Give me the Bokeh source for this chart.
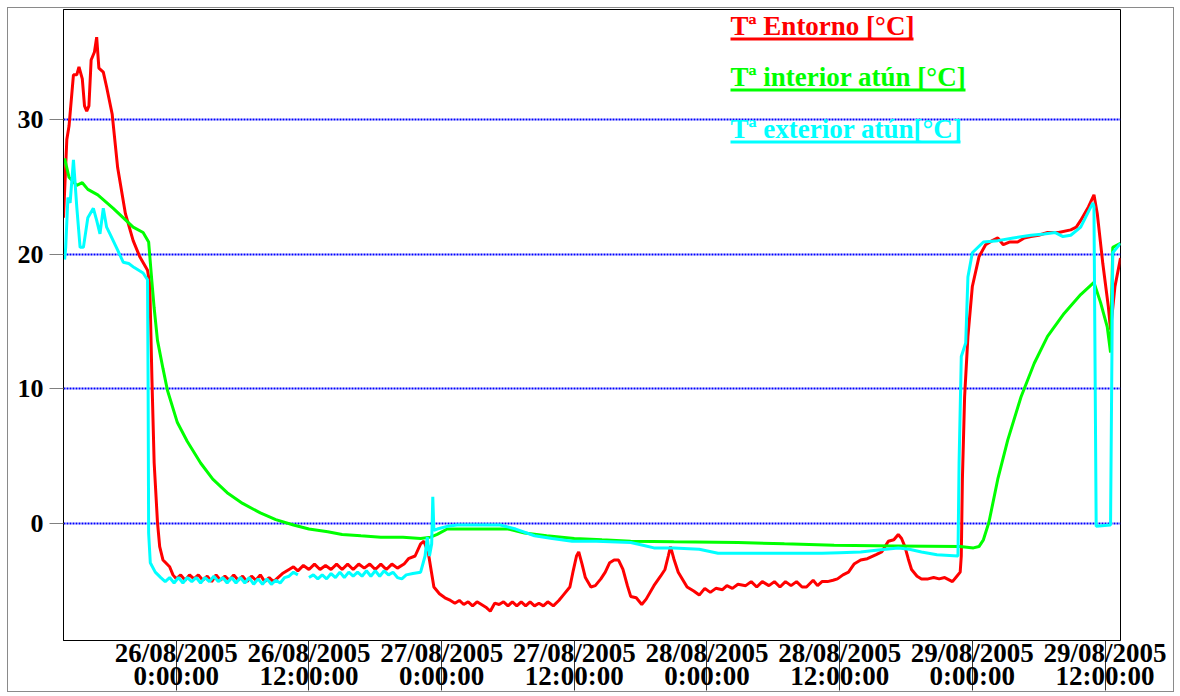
import numpy as np
from bokeh.plotting import figure
from bokeh.models import Range1d, FixedTicker, Label
from bokeh.embed import file_html
from bokeh.resources import INLINE

# ---- data: hours since 26/08/2005 0:00:00 and temperature [°C] ----
RED_H = [-10.2, -9.9, -9.7, -9.3, -9.0, -8.8, -8.5, -8.3, -8.1, -7.9, -7.7, -7.4, -7.2, -7.0, -6.6, -6.3,
         -5.8, -5.3, -4.6, -3.9, -3.3, -2.6, -2.4, -2.2, -2.0, -1.7, -1.5, -1.2, -0.6, -0.3,
         0.0, 0.4, 0.8, 1.2, 1.6, 2.0, 2.4, 2.8, 3.2, 3.6, 4.0, 4.4, 4.8, 5.2, 5.6, 6.0, 6.4, 6.8,
         7.2, 7.6, 8.0, 8.4, 8.8, 9.2, 9.6, 10.2, 10.6, 11.0, 11.5, 12.0, 12.5, 13.0, 13.5, 14.0,
         14.5, 15.0, 15.5, 16.0, 16.5, 17.0, 17.5, 18.0, 18.5, 19.0, 19.5, 20.0, 20.6, 21.0, 21.6,
         22.1, 22.4, 22.8, 23.3, 23.8, 24.3, 24.8, 25.2, 25.6, 26.0, 26.4, 26.8, 27.2, 27.6, 28.0,
         28.4, 28.8, 29.2, 29.6, 30.0, 30.4, 30.8, 31.2, 31.6, 32.0, 32.4, 32.8, 33.2, 33.6, 34.1,
         34.6, 35.0, 35.6, 35.9, 36.2, 36.4, 36.7, 37.0, 37.5, 37.9, 38.4, 38.8, 39.2, 39.6, 40.0,
         40.4, 40.8, 41.1, 41.6, 42.1, 42.5, 43.2, 43.8, 44.2, 44.5, 44.7, 45.0, 45.4, 46.2, 46.8,
         47.3, 47.8, 48.3, 48.8, 49.4, 49.8, 50.3, 50.8, 51.5, 52.0, 52.5, 53.0, 53.6, 54.1, 54.6,
         55.1, 55.6, 56.1, 56.6, 57.0, 57.6, 58.0, 58.4, 58.9, 59.4, 59.8, 60.3, 60.8, 61.3, 61.9,
         62.5, 63.3, 63.8, 64.4, 64.9, 65.3, 65.6, 65.9, 66.2, 66.5, 67.0, 67.4, 68.0, 68.5, 69.0,
         69.5, 70.2, 70.6, 70.9, 71.0, 71.1, 71.3, 71.6, 72.0, 72.6, 73.2, 73.8, 74.3, 74.8, 75.4,
         76.1, 76.7, 77.3, 78.0, 78.8, 79.8, 80.9, 81.4, 81.8, 82.5, 83.0, 83.3, 83.8, 84.3, 84.5,
         84.9, 85.4]
RED_T = [22.7, 28.5, 29.5, 33.3, 33.3, 33.9, 33.0, 31.0, 30.6, 31.0, 34.4, 35.0, 36.1, 33.8, 33.5, 32.4,
         30.4, 26.4, 23.0, 21.0, 19.8, 18.8, 17.8, 10.7, 4.5, 0.1, -1.7, -2.7, -3.2, -3.8,
         -4.1, -3.8, -4.2, -3.8, -4.1, -3.8, -4.2, -3.9, -4.3, -3.8, -4.2, -3.9, -4.2, -3.8, -4.2, -3.9, -4.3, -3.9,
         -4.2, -3.8, -4.3, -4.0, -4.3, -4.0, -3.7, -3.4, -3.2, -3.5, -3.1, -3.4, -3.0, -3.4, -3.1, -3.4,
         -3.0, -3.4, -3.0, -3.4, -3.0, -3.3, -3.0, -3.4, -3.0, -3.4, -3.0, -3.3, -3.0, -2.6, -2.4,
         -1.5, -1.3, -2.2, -4.7, -5.2, -5.5, -5.7, -5.9, -5.7, -6.0, -5.8, -6.1, -5.8, -6.0, -6.2,
         -6.5, -5.9, -6.0, -5.8, -6.1, -5.8, -6.1, -5.8, -6.1, -5.8, -6.1, -5.9, -6.1, -5.8, -6.1,
         -5.7, -5.3, -4.7, -3.5, -2.4, -2.1, -3.0, -4.0, -4.7, -4.6, -4.1, -3.6, -2.9, -2.7, -2.7,
         -3.4, -4.6, -5.4, -5.5, -6.0, -5.6, -4.6, -3.9, -3.4, -2.4, -1.7, -2.6, -3.6, -4.7, -5.0,
         -5.3, -4.8, -5.1, -4.8, -4.9, -4.6, -4.8, -4.5, -4.6, -4.3, -4.7, -4.3, -4.6, -4.3, -4.7,
         -4.3, -4.6, -4.3, -4.7, -4.7, -4.2, -4.6, -4.3, -4.3, -4.2, -4.1, -3.8, -3.6, -3.0, -2.7,
         -2.6, -2.3, -2.1, -1.3, -1.2, -0.8, -1.1, -1.7, -2.6, -3.4, -3.9, -4.1, -4.1, -4.0, -4.1,
         -4.0, -4.3, -3.9, -3.6, -2.4, 3.3, 9.4, 13.9, 17.6, 19.8, 20.7, 21.0, 21.2, 20.7, 20.9,
         20.9, 21.2, 21.3, 21.4, 21.6, 21.6, 21.8, 22.0, 22.5, 23.5, 24.4, 23.0, 19.3, 16.1, 14.4,
         17.6, 19.7]

GREEN_H = [-10.1, -9.7, -9.0, -8.5, -8.0, -7.1, -5.7, -3.9, -3.0, -2.5, -2.2, -2.0, -1.7, -1.2, -0.8,
           0.1, 1.0, 2.2, 3.3, 4.6, 6.0, 7.6, 9.0, 10.6, 12.0, 13.7, 15.0, 16.7, 18.5, 20.5, 22.1,
           23.0, 23.6, 24.5, 26.2, 30.0, 31.5, 33.5, 36.0, 38.5, 41.1, 45.0, 50.8, 55.0, 59.5, 65.0,
           70.9, 72.1, 72.6, 73.0, 73.5, 74.3, 75.2, 76.4, 77.6, 78.8, 80.3, 81.8, 83.0, 83.6, 84.2,
           84.5, 84.7, 85.4]
GREEN_T = [27.1, 25.7, 25.1, 25.3, 24.8, 24.4, 23.4, 22.0, 21.6, 20.9, 17.9, 16.0, 13.6, 11.5, 9.9,
           7.5, 6.1, 4.5, 3.3, 2.3, 1.5, 0.8, 0.3, -0.1, -0.4, -0.6, -0.8, -0.9, -1.0, -1.0, -1.1,
           -1.0, -0.8, -0.4, -0.4, -0.4, -0.7, -0.9, -1.1, -1.2, -1.3, -1.35, -1.4, -1.5, -1.6, -1.65,
           -1.7, -1.8, -1.7, -1.2, 0.1, 3.3, 6.2, 9.4, 11.9, 13.9, 15.6, 17.0, 17.9, 16.4, 14.6,
           12.7, 20.5, 20.8]

CYAN_H = [-10.1, -10.0, -9.8, -9.6, -9.3, -9.0, -8.7, -8.4, -8.0, -7.5, -7.2, -6.9, -6.6, -6.3, -6.0,
          -5.3, -4.8, -4.3, -3.8, -3.0, -2.6, -2.55, -2.5, -2.35, -1.9, -1.4,
          -1.0, -0.6, -0.2, 0.2, 0.6, 1.0, 1.4, 1.8, 2.2, 2.6, 3.0, 3.4, 3.8, 4.2, 4.6, 5.0, 5.4,
          5.8, 6.2, 6.6, 7.0, 7.4, 7.8, 8.2, 8.6, 9.0, 9.4, 9.8, 10.2, 10.6, 11.0, 11.5,
          12.0, 12.4, 12.8, 13.2, 13.6, 14.0, 14.4, 14.8, 15.2, 15.6, 16.0, 16.4, 16.8, 17.2, 17.6,
          18.0, 18.4, 18.8, 19.2, 19.6, 20.0, 20.4, 20.8, 21.4, 22.1, 22.5, 22.7, 22.9, 23.1, 23.2,
          23.3, 23.6, 24.5, 25.4, 27.0, 29.3, 30.7, 32.4, 34.0, 35.8, 38.0, 41.1, 42.2, 43.2, 45.0,
          47.3, 49.0, 52.0, 55.0, 58.4, 60.0, 61.9, 63.5, 65.3, 66.3, 67.4, 68.8, 70.7, 70.8, 71.0,
          71.4, 71.6, 72.0, 73.0, 74.3, 75.7, 77.3, 78.5, 79.5, 80.2, 80.9, 81.8, 82.9, 83.0, 83.2,
          84.5, 84.7, 85.4]
CYAN_T = [19.6, 20.5, 24.2, 23.8, 27.0, 23.5, 20.5, 20.5, 22.7, 23.4, 22.5, 21.5, 23.4, 22.0, 21.5,
          20.3, 19.4, 19.3, 19.0, 18.6, 18.1, 10.7, -0.7, -2.9, -3.6, -4.0,
          -4.3, -4.0, -4.4, -4.0, -4.4, -4.0, -4.3, -4.0, -4.4, -4.0, -4.3, -3.9, -4.3, -4.0, -4.4, -4.0, -4.4,
          -4.0, -4.4, -4.0, -4.5, -4.1, -4.5, -4.1, -4.5, -4.2, -4.4, -4.0, -3.9, -3.6, -3.8, np.nan,
          -4.0, -3.8, -4.1, -3.8, -4.1, -3.7, -4.0, -3.6, -4.0, -3.6, -3.9, -3.6, -3.9, -3.5, -3.9,
          -3.5, -3.9, -3.5, -3.8, -3.6, -4.0, -4.1, -3.8, -3.7, -3.6, -2.4, -1.0, -2.4, -1.5, 2.0,
          -0.5, -0.4, -0.2, -0.1, -0.1, -0.1, -0.4, -0.9, -1.1, -1.3, -1.3, -1.4, -1.6, -1.8, -1.8,
          -1.9, -2.2, -2.2, -2.2, -2.2, -2.15, -2.1, -1.95, -1.8, -1.9, -2.1, -2.3, -2.4, 4.5, 12.4,
          13.4, 18.3, 20.1, 20.9, 21.0, 21.2, 21.4, 21.5, 21.6, 21.3, 21.4, 22.0, 23.8, 23.5, -0.2,
          -0.1, 20.1, 20.8]

SERIES_NAMES = ["Tª Entorno [°C]", "Tª interior atún [°C]", "Tª exterior atún[°C]"]
SERIES_COLORS = ["#FF0000", "#00FF00", "#00FFFF"]

Y_TICKS = [0, 10, 20, 30]
X_TICKS = [0, 12, 24, 36, 48, 60, 72, 84]
X_TICK_LABELS = ["26/08/2005\n0:00:00", "26/08/2005\n12:00:00",
                 "27/08/2005\n0:00:00", "27/08/2005\n12:00:00",
                 "28/08/2005\n0:00:00", "28/08/2005\n12:00:00",
                 "29/08/2005\n0:00:00", "29/08/2005\n12:00:00"]

X0, X1 = -10.2, 85.4
Y0, Y1 = -8.67, 38.15

# ---- layout (canvas pixels) ----
W, H = 1167, 685
FL, FR, FT, FB = 55, 1112, 1, 632      # frame edges


def cx(px):   # canvas px -> data x
    return X0 + (px - FL) / (FR - FL) * (X1 - X0)


def cy(py):   # canvas px -> data y
    return Y1 - (py - FT) / (FB - FT) * (Y1 - Y0)


FONT = "Liberation Serif"

p = figure(width=W, height=H, output_backend="svg", toolbar_location=None,
           x_range=Range1d(X0, X1), y_range=Range1d(Y0, Y1),
           min_border_left=FL, min_border_right=W - FR, min_border_top=FT,
           min_border_bottom=H - FB)
p.styles = {"margin-left": "7px", "margin-top": "7px", "border": "1px solid #8a8a8a"}
p.background_fill_color = "white"
p.border_fill_color = "white"
p.outline_line_color = "black"
p.outline_line_width = 1

p.xgrid.visible = False
p.ygrid.ticker = FixedTicker(ticks=Y_TICKS)
p.ygrid.grid_line_color = "#0000FF"
p.ygrid.grid_line_width = 2
p.ygrid.grid_line_dash = "2 1"

# y axis
p.yaxis.ticker = FixedTicker(ticks=Y_TICKS)
p.yaxis.axis_line_color = "black"
p.yaxis.major_tick_out = 14
p.yaxis.major_tick_in = 0
p.yaxis.major_tick_line_color = "#808080"
p.yaxis.minor_tick_line_color = None
p.yaxis.major_label_standoff = 6
p.yaxis.major_label_text_font = FONT
p.yaxis.major_label_text_font_style = "bold"
p.yaxis.major_label_text_font_size = "26px"
p.yaxis.major_label_text_color = "black"

# x axis: long ticks running down through the two-line labels
p.xaxis.ticker = FixedTicker(ticks=X_TICKS)
p.xaxis.major_label_overrides = {t: lab for t, lab in zip(X_TICKS, X_TICK_LABELS)}
p.xaxis.axis_line_color = "black"
p.xaxis.major_tick_out = 50
p.xaxis.major_tick_in = 0
p.xaxis.major_tick_line_color = "#333333"
p.xaxis.minor_tick_line_color = None
p.xaxis.minor_tick_out = 0
p.xaxis.major_label_standoff = -53
p.xaxis.major_label_text_font = FONT
p.xaxis.major_label_text_font_style = "bold"
p.xaxis.major_label_text_font_size = "27px"
p.xaxis.major_label_text_line_height = 0.78
p.xaxis.major_label_text_color = "black"

# series
for xs, ys, col in [(RED_H, RED_T, SERIES_COLORS[0]),
                    (GREEN_H, GREEN_T, SERIES_COLORS[1]),
                    (CYAN_H, CYAN_T, SERIES_COLORS[2])]:
    p.line(np.array(xs, dtype=float), np.array(ys, dtype=float), line_color=col, line_width=3)

# legend: coloured, bold, underlined labels
LEG_LEFT = 722            # canvas px
LEG_MID = [17, 68, 120]   # canvas px, vertical middle of each text
LEG_UL = [30.5, 81.5, 133.5]
LEG_W = [183, 235, 230]   # underline length px
for name, col, mid, ul, w in zip(SERIES_NAMES, SERIES_COLORS, LEG_MID, LEG_UL, LEG_W):
    p.add_layout(Label(x=cx(LEG_LEFT), y=cy(mid), text=name, text_color=col,
                       text_font=FONT, text_font_style="bold", text_font_size="27px",
                       text_align="left", text_baseline="middle"))
    p.segment(x0=[cx(LEG_LEFT)], y0=[cy(ul)], x1=[cx(LEG_LEFT + w)], y1=[cy(ul)],
              line_color=col, line_width=3)

open("out.html", "w").write(file_html(p, INLINE))
